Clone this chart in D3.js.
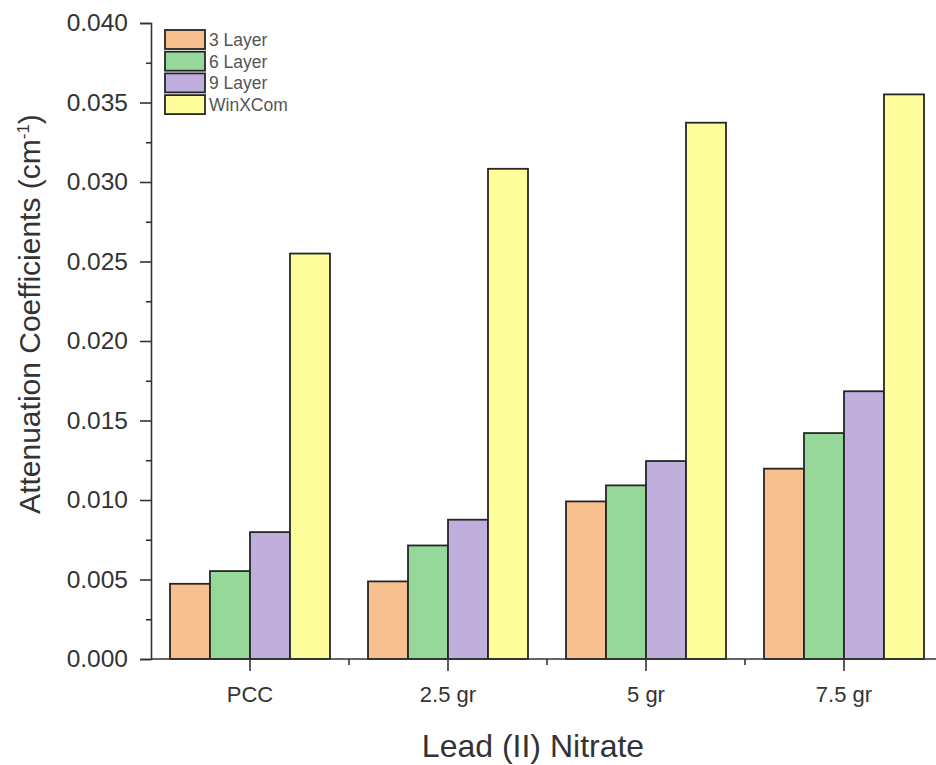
<!DOCTYPE html>
<html>
<head>
<meta charset="utf-8">
<script src="https://cdn.jsdelivr.net/npm/d3@7"></script>
<style>
  body { margin: 0; background: #fff; }
  svg { display: block; font-family: "Liberation Sans", Arial, sans-serif; }
</style>
</head>
<body>
<svg id="chart" width="936" height="765"></svg>
<script>
// data
const categories = ["PCC", "2.5 gr", "5 gr", "7.5 gr"];
const seriesNames = ["3 Layer", "6 Layer", "9 Layer", "WinXCom"];
const layer3 = [0.00473, 0.00488, 0.00991, 0.01197];
const layer6 = [0.00553, 0.00714, 0.01092, 0.01421];
const layer9 = [0.00798, 0.00876, 0.01245, 0.01684];
const winxcom = [0.02550, 0.03083, 0.03373, 0.03551];
const yTicks = [0, 0.005, 0.01, 0.015, 0.02, 0.025, 0.03, 0.035, 0.04];
const colors = ["#f9c08f", "#96d899", "#c0afdd", "#fdfd9b"];

const allSeries = [layer3, layer6, layer9, winxcom];
const rows = categories.map((c, i) => ({
  cat: c,
  vals: allSeries.map((s, j) => ({ name: seriesNames[j], value: s[i], idx: j }))
}));

const svg = d3.select("#chart");
const plotLeft = 151, plotBottom = 659, plotTop = 23;
const step = 198;

const x = d3.scaleBand()
  .domain(categories)
  .range([plotLeft, plotLeft + step * categories.length])
  .paddingInner(38 / 198)
  .paddingOuter(19 / 198);

const xs = d3.scaleBand()
  .domain(seriesNames)
  .range([0, x.bandwidth()]);

const y = d3.scaleLinear().domain([0, 0.04]).range([plotBottom, plotTop]);

// bars
const groups = svg.append("g").selectAll("g")
  .data(rows)
  .join("g")
  .attr("transform", d => `translate(${x(d.cat)},0)`);

groups.selectAll("rect")
  .data(d => d.vals)
  .join("rect")
  .attr("x", d => xs(d.name))
  .attr("y", d => y(d.value))
  .attr("width", xs.bandwidth())
  .attr("height", d => y(0) - y(d.value))
  .attr("fill", d => colors[d.idx])
  .attr("stroke", "#262626")
  .attr("stroke-width", 1.8);

// y axis (major + minor ticks)
const yAxis = svg.append("g")
  .attr("transform", `translate(${plotLeft},0)`)
  .call(d3.axisLeft(y).tickValues(yTicks).tickFormat(d3.format(".3f")).tickSize(11).tickPadding(12));
const minorY = d3.range(0.0025, 0.04, 0.005);
svg.append("g")
  .attr("transform", `translate(${plotLeft},0)`)
  .call(d3.axisLeft(y).tickValues(minorY).tickFormat("").tickSize(5))
  .select(".domain").remove();

// x axis
const xAxisG = svg.append("g")
  .attr("transform", `translate(0,${plotBottom})`);
xAxisG.append("line")
  .attr("x1", plotLeft).attr("x2", 936)
  .attr("y1", 0).attr("y2", 0)
  .attr("stroke", "#333").attr("stroke-width", 1.6);
xAxisG.selectAll(".major")
  .data(categories)
  .join("line")
  .attr("class", "major")
  .attr("x1", d => x(d) + x.bandwidth() / 2)
  .attr("x2", d => x(d) + x.bandwidth() / 2)
  .attr("y1", 0).attr("y2", 12)
  .attr("stroke", "#333").attr("stroke-width", 1.6);
xAxisG.selectAll(".minor")
  .data(categories.slice(1))
  .join("line")
  .attr("class", "minor")
  .attr("x1", d => x(d) - step / 2 + x.bandwidth() / 2)
  .attr("x2", d => x(d) - step / 2 + x.bandwidth() / 2)
  .attr("y1", 0).attr("y2", 6)
  .attr("stroke", "#333").attr("stroke-width", 1.6);
xAxisG.selectAll("text")
  .data(categories)
  .join("text")
  .attr("x", d => x(d) + x.bandwidth() / 2)
  .attr("y", 43)
  .attr("text-anchor", "middle")
  .attr("fill", "#333")
  .style("font-size", "22px")
  .text(d => d);

svg.selectAll(".domain, .tick line").attr("stroke", "#333").attr("stroke-width", 1.6);
yAxis.selectAll("text").attr("fill", "#333").style("font-size", "24.5px");

// axis titles
const yTitle = svg.append("text")
  .attr("transform", `translate(40,${(plotBottom + plotTop) / 2 - 27}) rotate(-90)`)
  .attr("text-anchor", "middle")
  .attr("fill", "#333")
  .style("font-size", "30px");
yTitle.append("tspan").text("Attenuation Coefficients (cm");
yTitle.append("tspan").attr("dy", -11).style("font-size", "17px").text("-1");
yTitle.append("tspan").attr("dy", 11).text(")");

svg.append("text")
  .attr("x", 533)
  .attr("y", 757)
  .attr("text-anchor", "middle")
  .attr("fill", "#333")
  .style("font-size", "32px")
  .text("Lead (II) Nitrate");

// legend
const legend = svg.append("g").attr("transform", "translate(165,30)");
const items = legend.selectAll("g")
  .data(seriesNames)
  .join("g")
  .attr("transform", (d, i) => `translate(0,${i * 21.7})`);
items.append("rect")
  .attr("width", 40).attr("height", 19)
  .attr("fill", (d, i) => colors[i])
  .attr("stroke", "#262626").attr("stroke-width", 1.8);
items.append("text")
  .attr("x", 44).attr("y", 16)
  .attr("fill", "#555")
  .style("font-size", "17.5px")
  .text(d => d);
</script>
</body>
</html>
